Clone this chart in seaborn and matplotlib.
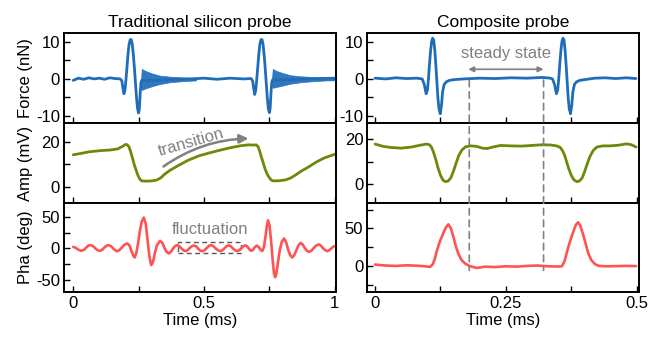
import matplotlib
matplotlib.use("Agg")
import matplotlib.pyplot as plt
import seaborn as sns
from matplotlib.patches import Rectangle, ConnectionPatch

# ---------------- data ----------------
# Left column: traditional silicon probe, time in ms
t_lf = [0.000, 0.020, 0.040, 0.060, 0.080, 0.100, 0.120, 0.140, 0.160, 0.180,
        0.186, 0.190, 0.194, 0.198, 0.202, 0.206, 0.210, 0.214, 0.218, 0.222,
        0.226, 0.230, 0.234, 0.238, 0.242, 0.246, 0.250, 0.253, 0.256, 0.259,
        0.262, 0.300, 0.350, 0.400, 0.450, 0.500, 0.550, 0.600, 0.650, 0.680,
        0.686, 0.690, 0.694, 0.698, 0.702, 0.706, 0.710, 0.714, 0.718, 0.722,
        0.726, 0.730, 0.734, 0.738, 0.742, 0.746, 0.750, 0.753, 0.756, 0.759,
        0.762, 0.800, 0.850, 0.900, 0.950, 1.000]
f_lf = [-0.4, 0.2, -0.1, 0.3, 0.0, 0.2, -0.1, 0.3, 0.1, 0.0,
        -0.5, -2.5, -4.0, -3.0, 0.0, 3.5, 7.0, 9.5, 10.6, 10.6,
        9.3, 6.5, 3.0, -1.0, -5.0, -8.0, -9.2, -8.0, -4.0, -1.0,
        -0.4, -0.4, -0.3, -0.1, 0.0, 0.2, -0.1, 0.2, 0.0, 0.1,
        -0.5, -2.5, -4.2, -3.0, 0.0, 3.5, 7.0, 9.5, 10.6, 10.6,
        9.3, 6.5, 3.0, -1.0, -5.0, -8.0, -9.1, -8.0, -4.0, -1.0,
        -0.3, -0.3, -0.2, 0.0, 0.1, 0.2]
# envelope of the high-frequency ringing after each tap
t_ring1 = [0.259, 0.262, 0.275, 0.300, 0.330, 0.370, 0.420, 0.470]
up_ring1 = [-1.0, 2.7, 2.2, 1.5, 0.9, 0.6, 0.4, 0.3]
lo_ring1 = [-1.0, -3.0, -2.6, -2.0, -1.4, -0.9, -0.6, -0.4]
t_ring2 = [0.759, 0.763, 0.775, 0.800, 0.830, 0.870, 0.920, 0.970, 1.000]
up_ring2 = [-1.0, 2.7, 2.2, 1.6, 1.0, 0.7, 0.5, 0.4, 0.4]
lo_ring2 = [-1.0, -2.4, -2.2, -1.8, -1.3, -0.9, -0.6, -0.4, -0.4]

t_la = [0.000, 0.030, 0.060, 0.100, 0.140, 0.170, 0.190, 0.200, 0.207, 0.213,
        0.219, 0.226, 0.233, 0.240, 0.247, 0.254, 0.262, 0.280, 0.300, 0.320,
        0.335, 0.350, 0.370, 0.400, 0.440, 0.480, 0.520, 0.560, 0.600, 0.640,
        0.670, 0.690, 0.700, 0.707, 0.713, 0.720, 0.727, 0.734, 0.741, 0.749,
        0.757, 0.765, 0.790, 0.810, 0.830, 0.850, 0.870, 0.900, 0.930, 0.960,
        1.000]
a_la = [14.2, 14.8, 15.5, 16.0, 16.3, 16.8, 18.0, 18.8, 18.6, 17.8,
        15.8, 13.0, 10.0, 7.5, 5.2, 3.5, 2.6, 2.5, 2.6, 3.0,
        4.0, 5.6, 7.3, 9.3, 11.8, 13.7, 15.0, 16.2, 17.3, 18.2,
        18.6, 18.5, 18.6, 17.8, 15.8, 13.0, 10.4, 7.8, 5.8, 4.2,
        3.0, 2.6, 2.7, 3.0, 3.8, 5.2, 6.8, 8.8, 11.0, 12.8,
        14.4]

t_lp = [0.000, 0.010, 0.020, 0.031, 0.042, 0.050, 0.058, 0.066, 0.075, 0.084,
        0.093, 0.102, 0.111, 0.119, 0.128, 0.136, 0.145, 0.153, 0.161, 0.168,
        0.177, 0.186, 0.196, 0.207, 0.215, 0.222, 0.229, 0.235, 0.241, 0.248,
        0.255, 0.262, 0.270, 0.277, 0.284, 0.291, 0.298, 0.305, 0.312, 0.320,
        0.332, 0.341, 0.349, 0.357, 0.366, 0.374, 0.382, 0.390, 0.398, 0.406,
        0.414, 0.422, 0.430, 0.438, 0.446, 0.455, 0.463, 0.471, 0.478, 0.486,
        0.494, 0.503, 0.511, 0.520, 0.529, 0.538, 0.546, 0.555, 0.564, 0.572,
        0.580, 0.588, 0.596, 0.604, 0.612, 0.620, 0.628, 0.636, 0.644, 0.652,
        0.659, 0.666, 0.673, 0.680, 0.687, 0.694, 0.702, 0.710, 0.717, 0.723,
        0.729, 0.735, 0.740, 0.745, 0.751, 0.757, 0.763, 0.768, 0.772, 0.777,
        0.783, 0.790, 0.798, 0.806, 0.814, 0.822, 0.830, 0.838, 0.846, 0.854,
        0.862, 0.870, 0.878, 0.886, 0.894, 0.902, 0.911, 0.920, 0.930, 0.940,
        0.948, 0.956, 0.964, 0.972, 0.980, 0.988, 0.997]
p_lp = [2.6, 1.0, -2.0, -3.8, -2.0, 1.5, 4.5, 5.5, 4.0, 0.5,
        -2.8, -3.8, -2.0, 1.5, 4.5, 5.3, 3.5, 0.0, -3.0, -4.3,
        -2.5, 1.5, 6.0, 8.0, 5.0, -3.0, -11.0, -14.4, -8.0, 8.0,
        28.0, 43.0, 49.4, 40.0, 15.0, -12.0, -26.6, -22.0, -8.0, 5.0,
        12.2, 9.0, 1.0, -5.5, -8.0, -5.0, 0.0, 4.0, 5.3, 3.5,
        0.0, -3.0, -4.3, -2.5, 1.0, 4.0, 4.8, 3.0, -0.5, -3.5,
        -4.3, -2.5, 1.0, 4.5, 5.2, 3.0, -0.5, -3.2, -4.0, -2.5,
        1.0, 4.0, 5.0, 3.0, -0.5, -3.2, -4.0, -2.5, 1.0, 4.0,
        5.0, 3.0, -1.0, -3.8, -2.5, 2.0, 4.5, 2.0, -2.5, -4.0,
        2.0, 18.0, 35.0, 45.0, 36.0, 10.0, -20.0, -40.0, -46.0, -40.0,
        -22.0, -2.0, 11.0, 16.0, 10.0, -2.0, -11.0, -14.4, -10.0, -2.0,
        5.5, 9.0, 6.0, 0.5, -4.0, -5.4, -3.5, 1.0, 5.0, 6.5,
        4.0, 0.0, -3.0, -4.3, -2.5, 0.5, 3.7]

# Right column: composite probe
t_rf = [0.000, 0.020, 0.040, 0.060, 0.080, 0.090, 0.094, 0.0975, 0.100, 0.102,
        0.104, 0.106, 0.108, 0.110, 0.112, 0.114, 0.116, 0.118, 0.120, 0.122,
        0.1245, 0.127, 0.129, 0.132, 0.136, 0.142, 0.150, 0.170, 0.200, 0.230,
        0.260, 0.290, 0.320, 0.335, 0.339, 0.343, 0.3465, 0.349, 0.351, 0.353,
        0.355, 0.357, 0.359, 0.361, 0.363, 0.365, 0.367, 0.369, 0.371, 0.3735,
        0.376, 0.378, 0.381, 0.385, 0.391, 0.400, 0.420, 0.440, 0.460, 0.480,
        0.4987]
f_rf = [0.2, 0.0, 0.3, 0.1, 0.2, 0.0, -1.5, -4.0, -3.0, 0.0,
        4.0, 7.5, 10.0, 11.0, 10.5, 8.0, 4.0, -0.5, -5.0, -8.0,
        -9.4, -7.0, -3.5, -1.5, -0.8, -0.4, -0.2, 0.0, 0.2, 0.1,
        0.3, 0.2, 0.4, 0.2, 0.0, -1.5, -4.0, -3.0, 0.0, 4.0,
        7.5, 10.0, 11.0, 10.5, 8.0, 4.0, -0.5, -5.0, -8.0, -9.4,
        -7.0, -3.5, -1.5, -0.8, -0.4, -0.2, 0.2, 0.3, 0.1, 0.3,
        0.1]

t_ra = [0.000, 0.015, 0.030, 0.050, 0.070, 0.086, 0.098, 0.104, 0.108, 0.112,
        0.116, 0.120, 0.125, 0.130, 0.135, 0.140, 0.145, 0.150, 0.155, 0.160,
        0.166, 0.173, 0.182, 0.194, 0.205, 0.214, 0.225, 0.240, 0.260, 0.280,
        0.300, 0.320, 0.335, 0.347, 0.354, 0.358, 0.362, 0.366, 0.370, 0.375,
        0.380, 0.386, 0.391, 0.396, 0.401, 0.406, 0.411, 0.417, 0.424, 0.435,
        0.449, 0.465, 0.481, 0.490, 0.4987]
a_ra = [17.8, 16.8, 16.3, 16.0, 16.5, 17.3, 17.8, 17.5, 16.3, 14.0,
        11.0, 7.5, 4.0, 1.8, 1.2, 1.6, 3.0, 6.0, 9.5, 12.8,
        15.2, 16.6, 17.0, 16.8, 16.0, 15.8, 16.5, 17.2, 17.0, 16.9,
        17.2, 17.5, 17.4, 17.0, 16.3, 15.0, 13.0, 10.0, 7.0, 4.0,
        2.0, 1.2, 1.6, 3.0, 6.0, 9.5, 12.5, 15.0, 16.5, 17.0,
        17.0, 17.3, 17.9, 17.5, 16.5]

t_rp = [0.000, 0.020, 0.040, 0.060, 0.080, 0.095, 0.105, 0.110, 0.114, 0.118,
        0.124, 0.130, 0.135, 0.140, 0.145, 0.1497, 0.154, 0.159, 0.165, 0.172,
        0.180, 0.194, 0.210, 0.230, 0.250, 0.270, 0.290, 0.310, 0.330, 0.350,
        0.357, 0.362, 0.3695, 0.375, 0.380, 0.384, 0.388, 0.392, 0.398, 0.403,
        0.4076, 0.413, 0.4204, 0.428, 0.440, 0.460, 0.480, 0.4987]
p_rp = [1.8, 0.5, 0.0, 0.8, 0.3, -0.5, -1.3, 2.0, 9.0, 20.0,
        33.0, 43.0, 51.0, 55.4, 50.0, 38.8, 27.0, 16.6, 8.0, 3.2,
        0.0, -2.7, -1.0, -1.5, -0.5, -1.0, 0.0, 0.5, -0.5, -0.8,
        -0.5, 6.0, 25.5, 38.0, 47.8, 55.0, 58.1, 54.0, 41.0, 28.0,
        16.6, 8.0, 2.3, 0.0, -0.5, -0.3, 0.0, -0.2]

titles = ["Traditional silicon probe", "Composite probe"]
ylabels = ["Force (nN)", "Amp (mV)", "Pha (deg)"]
xlabel = "Time (ms)"

# ---------------- style ----------------
sns.set_theme(style="ticks")
plt.rcParams["font.family"] = ["Liberation Sans", "DejaVu Sans"]
plt.rcParams["axes.unicode_minus"] = False

BLUE = "#1f6db8"
GREEN = "#6b8a0a"
RED = "#ff5252"
GRAY = "#808080"
FS = 12

fig = plt.figure(figsize=(6.61, 3.45), dpi=100)

col_x = [(0.0961, 0.4123), (0.5548, 0.4120)]
row_y = [(0.6435, 0.2609), (0.4116, 0.2319), (0.1536, 0.2580)]

axes = [[None] * 2 for _ in range(3)]
for r in range(3):
    for c in range(2):
        x0, w = col_x[c]
        y0, h = row_y[r]
        axes[r][c] = fig.add_axes([x0, y0, w, h])

def style(ax, xlim, xmaj, xmin, xlabels, ylim, ymaj, ymin, ylabels_, show_x):
    ax.set_xlim(*xlim)
    ax.set_ylim(*ylim)
    ax.set_xticks(xmaj)
    ax.set_xticks(xmin, minor=True)
    ax.set_yticks(ymaj)
    ax.set_yticks(ymin, minor=True)
    ax.set_yticklabels(ylabels_)
    if show_x:
        ax.set_xticklabels(xlabels)
    else:
        ax.set_xticklabels([])
    ax.tick_params(which="both", direction="in", length=4.0, width=1.0,
                   colors="black", labelsize=FS, pad=2.5,
                   top=False, right=False)
    ax.tick_params(axis="x", pad=3)
    for s in ax.spines.values():
        s.set_visible(True)
        s.set_linewidth(1.4)
        s.set_color("black")
    ax.set_xlabel("")
    ax.set_ylabel("")
    ax.grid(False)

axL = [axes[r][0] for r in range(3)]
axR = [axes[r][1] for r in range(3)]

sns.lineplot(x=t_lf, y=f_lf, ax=axL[0], color=BLUE, lw=2.0)
axL[0].fill_between(t_ring1, lo_ring1, up_ring1, color=BLUE, alpha=0.92, lw=0.5)
axL[0].fill_between(t_ring2, lo_ring2, up_ring2, color=BLUE, alpha=0.92, lw=0.5)
sns.lineplot(x=t_la, y=a_la, ax=axL[1], color=GREEN, lw=2.0)
sns.lineplot(x=t_lp, y=p_lp, ax=axL[2], color=RED, lw=1.9)

sns.lineplot(x=t_rf, y=f_rf, ax=axR[0], color=BLUE, lw=2.0)
sns.lineplot(x=t_ra, y=a_ra, ax=axR[1], color=GREEN, lw=2.0)
sns.lineplot(x=t_rp, y=p_rp, ax=axR[2], color=RED, lw=1.9)

lx = ((-0.037, 1.005), [0, 0.5, 1], [0.25, 0.75], ["0", "0.5", "1"])
rx = ((-0.016, 0.5045), [0, 0.25, 0.5], [0.125, 0.375], ["0", "0.25", "0.5"])

style(axL[0], lx[0], lx[1], lx[2], lx[3], (-11.9, 12.4), [-10, 0, 10], [-5, 5], ["-10", "0", "10"], False)
style(axL[1], lx[0], lx[1], lx[2], lx[3], (-7.2, 28.3), [0, 20], [10], ["0", "20"], False)
style(axL[2], lx[0], lx[1], lx[2], lx[3], (-69.7, 72.8), [-50, 0, 50], [-25, 25], ["-50", "0", "50"], True)
style(axR[0], rx[0], rx[1], rx[2], rx[3], (-11.9, 12.4), [-10, 0, 10], [-5, 5], ["-10", "0", "10"], False)
style(axR[1], rx[0], rx[1], rx[2], rx[3], (-8.2, 27.1), [0, 20], [10], ["0", "20"], False)
style(axR[2], rx[0], rx[1], rx[2], rx[3], (-34.8, 83.9), [0, 50], [-25, 25, 75], ["0", "50"], True)

for r, lab in enumerate(ylabels):
    axL[r].set_ylabel(lab, fontsize=FS, color="black")
    axL[r].yaxis.set_label_coords(-0.112, 0.5)

for ax in (axL[2], axR[2]):
    ax.set_xlabel(xlabel, fontsize=FS, color="black", labelpad=1.5)

axL[0].set_title(titles[0], fontsize=12.5, color="black", pad=4)
axR[0].set_title(titles[1], fontsize=12.5, color="black", pad=4)

# ---------------- annotations ----------------
axL[1].text(0.45, 19.8, "transition", rotation=16, rotation_mode="anchor",
            ha="center", va="center", fontsize=FS, color=GRAY)
axL[1].annotate("", xy=(0.67, 21.4), xytext=(0.345, 9.0),
                arrowprops=dict(arrowstyle="-|>", color=GRAY, lw=1.8,
                                mutation_scale=13, shrinkA=0, shrinkB=0,
                                connectionstyle="arc3,rad=-0.15"))

axL[2].text(0.522, 30.5, "fluctuation", ha="center", va="center",
            fontsize=FS, color=GRAY)
axL[2].add_patch(Rectangle((0.402, -8.0), 0.241, 17.6, fill=False,
                           edgecolor="#555555", lw=1.0, linestyle=(0, (3.5, 2.5))))

axR[0].text(0.25, 6.9, "steady state", ha="center", va="center",
            fontsize=FS, color=GRAY)
axR[0].annotate("", xy=(0.322, 2.6), xytext=(0.178, 2.6),
                arrowprops=dict(arrowstyle="<|-|>", color=GRAY, lw=1.2,
                                mutation_scale=8, shrinkA=0, shrinkB=0))
for tv in (0.18, 0.322):
    con = ConnectionPatch(xyA=(tv, -0.3), coordsA="data", axesA=axR[0],
                          xyB=(tv, -6.0), coordsB="data", axesB=axR[2],
                          color=GRAY, lw=1.2, linestyle=(0, (4, 3)))
    fig.add_artist(con)

fig.savefig("out.png", dpi=100)
